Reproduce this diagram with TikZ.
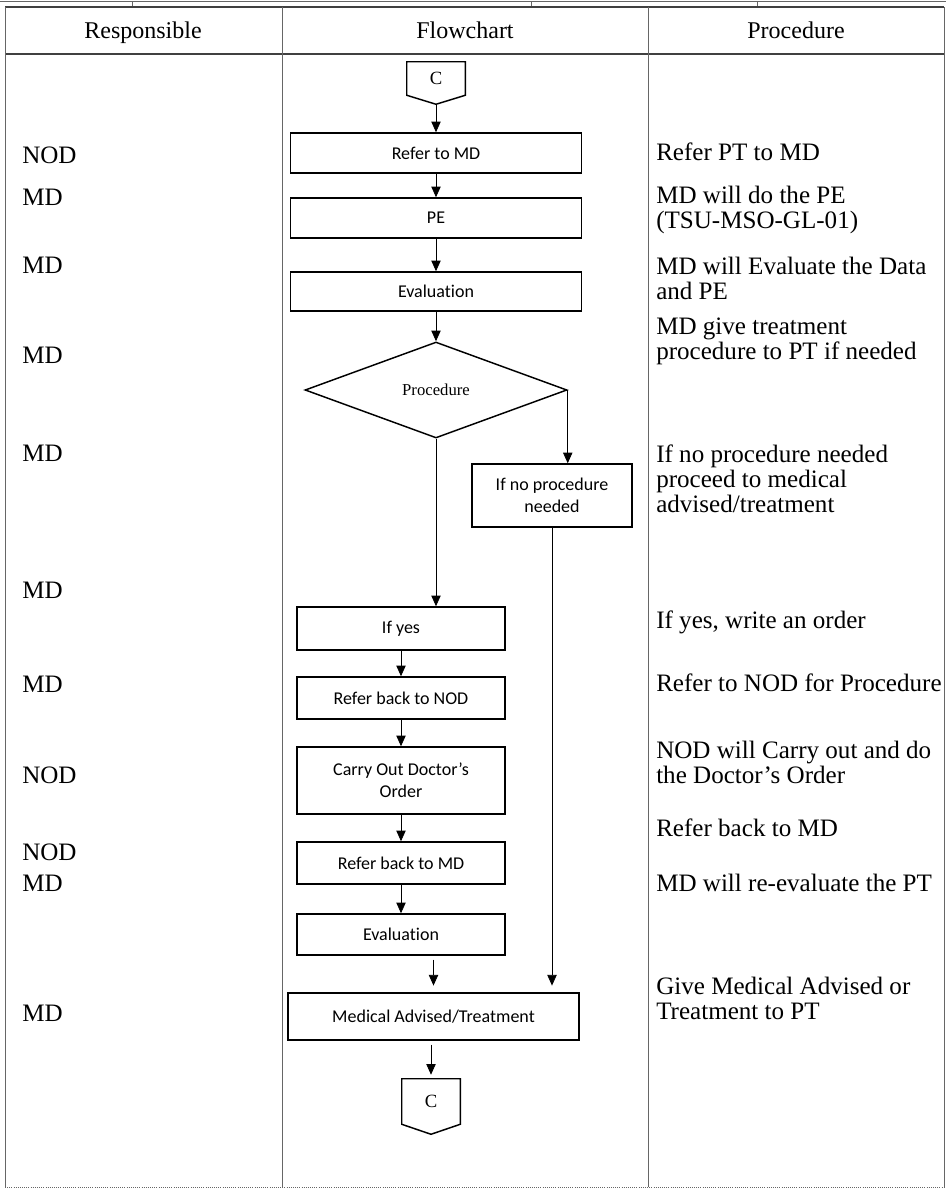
\documentclass[tikz,border=0pt]{standalone}
\usepackage{fontspec}
\setmainfont{Liberation Serif}
\newfontfamily\boxfont[Ligatures={NoCommon}]{Carlito}
\usepackage{tikz}
\usetikzlibrary{calc}
\usetikzlibrary{arrows.meta, positioning}
\usetikzlibrary{shapes.geometric}

\begin{document}
\begin{tikzpicture}[x=0.75pt,y=0.75pt,yscale=-1,xscale=1,
  tableline/.style={draw=black!60, line width=0.6pt},
  headline/.style={draw=black!75, line width=1pt},
  stepbox/.style={draw, line width=1.1pt, inner sep=1pt, align=center, font=\boxfont\fontsize{13.5}{16.3}\selectfont},
  widebox/.style={stepbox, minimum width=218pt},
  narrowbox/.style={stepbox, minimum width=156pt},
  offpage/.style={inner sep=0pt, minimum width=43.5pt, font=\fontsize{14}{16}\selectfont},
  flowarr/.style={line width=0.6pt, -{Triangle[length=8pt,width=7pt]}},
  colhead/.style={anchor=base, inner sep=0.75pt, font=\fontsize{18}{21}\selectfont},
  celltext/.style={anchor=west, inner sep=0.75pt, align=left, font=\fontsize{18.8}{18.75}\selectfont}
]
\useasboundingbox (0,0) rectangle (946,1192);

%Table frame
\draw [tableline] (0,1) -- (946,1) ;
\draw [tableline] (132,1) -- (132,7) (531,1) -- (531,7) (757,1) -- (757,7) ;
\draw [headline] (5,7) -- (944,7) ;
\draw [headline] (5,54) -- (944,54) ;
\draw [tableline] (5,7) -- (5,1187) ;
\draw [tableline] (282,7) -- (282,1187) ;
\draw [tableline] (648,7) -- (648,1187) ;
\draw [tableline] (944,7) -- (944,1187) ;
\draw [tableline, densely dotted] (5,1187) -- (944,1187) ;

% Header Nodes
\node (hresp) at (143,38) [colhead] {Responsible};
\node (hflow) at (465,38) [colhead] {Flowchart};
\node (hproc) at (796,38) [colhead] {Procedure};

%Connector C (top)
\node (ctop) at (436,78.5) [offpage, minimum height=24.75pt] {C};
\draw [line width=1.1pt] (ctop.north west) -- (ctop.north east) -- (ctop.south east) -- ($(ctop.south)+(0,9)$) coordinate (ctoptip) -- (ctop.south west) -- cycle ;

%Flowchart steps
\node (refer) at (436,153) [widebox, minimum height=30pt] {Refer to MD};
\node (pe) at (436,218) [widebox, minimum height=30pt] {PE};
\node (evala) at (436,291.5) [widebox, minimum height=29.25pt] {Evaluation};
\node (decide) at (436,390) [diamond, draw, line width=1.1pt, inner sep=0pt, minimum width=196.5pt, minimum height=72pt, font=\fontsize{12.5}{15}\selectfont] {Procedure};
\node (noproc) at (552,495.5) [stepbox, minimum width=120pt, minimum height=47.25pt] {If no procedure\\needed};
\node (ifyes) at (401,628.5) [narrowbox, minimum height=32.25pt] {If yes};
\node (backnod) at (401,698) [narrowbox, minimum height=31.5pt] {Refer back to NOD};
\node (carry) at (401,780.5) [narrowbox, minimum height=50.25pt] {Carry Out Doctor’s\\Order};
\node (backmd) at (401,863) [narrowbox, minimum height=31.5pt] {Refer back to MD};
\node (evalb) at (401,934.5) [narrowbox, minimum height=30.75pt] {Evaluation};
\node (medical) at (433.5,1016.5) [stepbox, minimum width=218.25pt, minimum height=35.25pt] {Medical Advised/Treatment};

%Connector C (bottom)
\node (cbot) at (431,1101.5) [offpage, minimum height=33.75pt] {C};
\draw [line width=1.1pt] (cbot.north west) -- (cbot.north east) -- (cbot.south east) -- ($(cbot.south)+(0,10)$) -- (cbot.south west) -- cycle ;

%Arrows
\draw [flowarr] (ctoptip) -- (refer) ;
\draw [flowarr] (refer) -- (pe) ;
\draw [flowarr] (pe) -- (evala) ;
\draw [flowarr] (evala) -- (decide) ;
\draw [flowarr] (decide.east) -- (decide.east |- noproc.north) ;
\draw [flowarr] (decide.south) -- (decide.south |- ifyes.north) ;
\draw [flowarr] (ifyes) -- (backnod) ;
\draw [flowarr] (backnod) -- (carry) ;
\draw [flowarr] (carry) -- (backmd) ;
\draw [flowarr] (backmd) -- (evalb) ;
\draw [flowarr, shorten <=3pt, shorten >=5pt] (evalb.south -| medical.north) -- (medical.north) ;
\draw [flowarr, shorten >=5pt] (noproc.south) -- (noproc.south |- medical.north) ;
\draw [flowarr, shorten <=3pt, shorten >=3pt] (cbot.north |- medical.south) -- (cbot.north) ;

% Text Node (Responsible)
\node (who1) at (21,155) [celltext] {NOD};
\node (who2) at (21,197) [celltext] {MD};
\node (who3) at (21,265) [celltext] {MD};
\node (who4) at (21,355) [celltext] {MD};
\node (who5) at (21,453) [celltext] {MD};
\node (who6) at (21,590) [celltext] {MD};
\node (who7) at (21,684) [celltext] {MD};
\node (who8) at (21,775) [celltext] {NOD};
\node (who9) at (21,852) [celltext] {NOD};
\node (who10) at (21,883) [celltext] {MD};
\node (who11) at (21,1013) [celltext] {MD};

% Text Node (Procedure)
\node (what1) at (655,152) [celltext] {Refer PT to MD};
\node (what2) at (655,209.5) [celltext] {MD will do the PE\\(TSU-MSO-GL-01)};
\node (what3) at (655,278.5) [celltext] {MD will Evaluate the Data\\and PE};
\node (what4) at (655,341.5) [celltext] {MD give treatment\\procedure to PT if needed};
\node (what5) at (655,479) [celltext] {If no procedure needed\\proceed to medical\\advised/treatment};
\node (what6) at (655,622) [celltext] {If yes, write an order};
\node (what7) at (655,683) [celltext] {Refer to NOD for Procedure};
\node (what8) at (655,762.5) [celltext] {NOD will Carry out and do\\the Doctor’s Order};
\node (what9) at (655,828) [celltext] {Refer back to MD};
\node (what10) at (655,883) [celltext] {MD will re-evaluate the PT};
\node (what11) at (655,998) [celltext] {Give Medical Advised or\\Treatment to PT};

\end{tikzpicture}
\end{document}
